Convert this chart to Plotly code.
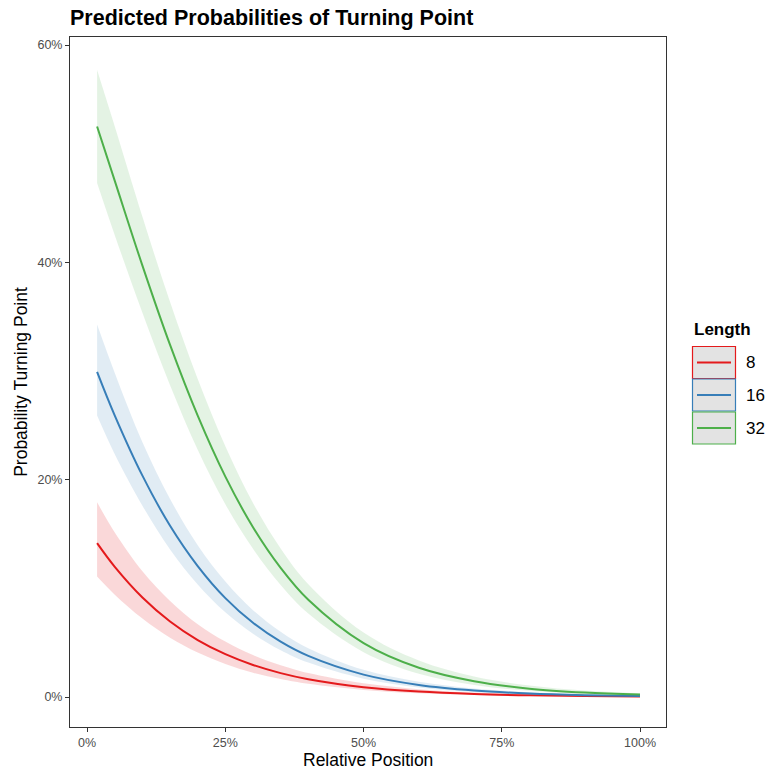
import plotly.graph_objects as go

# Relative position (x) at which values were read
position = [0.018, 0.05, 0.10, 0.15, 0.20, 0.25, 0.30, 0.35, 0.40, 0.50, 0.60, 0.70, 0.80, 0.90, 1.00]

lengths = ["8", "16", "32"]

# Predicted probability and confidence band per Length
prob_8 = [0.1416, 0.1198, 0.0916, 0.0695, 0.0524, 0.0394, 0.0295, 0.0220, 0.0164, 0.00907, 0.00500, 0.00275, 0.00151, 0.00083, 0.00046]
low_8 = [0.1109, 0.0942, 0.0722, 0.0545, 0.0409, 0.0304, 0.0224, 0.0166, 0.0122, 0.00654, 0.00345, 0.00181, 0.00094, 0.00049, 0.00026]
high_8 = [0.1792, 0.1514, 0.1157, 0.0884, 0.0670, 0.0510, 0.0386, 0.0292, 0.0220, 0.01257, 0.00722, 0.00418, 0.00241, 0.00139, 0.00081]

prob_16 = [0.2992, 0.2590, 0.2037, 0.1576, 0.1205, 0.0910, 0.0683, 0.0509, 0.0378, 0.0206, 0.0111, 0.00598, 0.00321, 0.00172, 0.00092]
low_16 = [0.2590, 0.2234, 0.1761, 0.1358, 0.1036, 0.0779, 0.0582, 0.0431, 0.0317, 0.0169, 0.00876, 0.00453, 0.00234, 0.00119, 0.00061]
high_16 = [0.3428, 0.2982, 0.2345, 0.1823, 0.1397, 0.1062, 0.0799, 0.0600, 0.0449, 0.0250, 0.0141, 0.0079, 0.00442, 0.00249, 0.0014]

prob_32 = [0.525, 0.475, 0.397, 0.324, 0.2589, 0.2028, 0.1563, 0.1189, 0.0895, 0.0496, 0.0269, 0.0145, 0.0077, 0.0041, 0.0022]
low_32 = [0.473, 0.425, 0.3536, 0.287, 0.2276, 0.1774, 0.1364, 0.1031, 0.0769, 0.0413, 0.0215, 0.0111, 0.0057, 0.00287, 0.00146]
high_32 = [0.577, 0.525, 0.442, 0.3635, 0.2927, 0.2308, 0.1786, 0.1367, 0.1038, 0.0593, 0.0336, 0.0189, 0.0105, 0.00588, 0.0033]

x_ticks = [0, 0.25, 0.5, 0.75, 1.0]
y_ticks = [0, 0.2, 0.4, 0.6]

colors = ["#E41A1C", "#377EB8", "#4DAF4A"]
bands = ["rgba(228,26,28,0.17)", "rgba(55,126,184,0.15)", "rgba(77,175,74,0.15)"]

series = [(prob_8, low_8, high_8), (prob_16, low_16, high_16), (prob_32, low_32, high_32)]

FONT = "Liberation Sans, Arial, Helvetica, sans-serif"

fig = go.Figure()
for (p, lo, hi), band in zip(series, bands):
    fig.add_trace(go.Scatter(x=position, y=hi, mode="lines", line=dict(width=0, shape="spline"),
                             showlegend=False, hoverinfo="skip"))
    fig.add_trace(go.Scatter(x=position, y=lo, mode="lines", line=dict(width=0, shape="spline"),
                             fill="tonexty", fillcolor=band, showlegend=False, hoverinfo="skip"))
for (p, lo, hi), col, name in zip(series, colors, lengths):
    fig.add_trace(go.Scatter(x=position, y=p, mode="lines", name=name,
                             line=dict(color=col, width=2, shape="spline"), showlegend=False))

# plot area in pixels: left 70, right 666, top 37, bottom 727
L, R, T, B = 70, 666, 37, 727
def px(xp):
    return (xp - L) / (R - L)
def py(yp):
    return (B - yp) / (B - T)

axis_common = dict(showline=True, linecolor="#333333", linewidth=1, mirror=True,
                   ticks="outside", ticklen=4, tickcolor="#333333", tickwidth=1,
                   showgrid=False, zeroline=False, automargin=False,
                   tickfont=dict(family=FONT, size=12.5, color="#4d4d4d"))

fig.update_layout(
    width=767, height=769,
    margin=dict(l=L, r=767 - R, t=T, b=769 - B, autoexpand=False),
    paper_bgcolor="white", plot_bgcolor="white",
    font=dict(family=FONT),
    title=dict(text="<b>Predicted Probabilities of Turning Point</b>", x=0, xref="paper", xanchor="left",
               y=1 - 17 / 769, yanchor="middle", automargin=False,
               font=dict(family=FONT, size=21.5, color="black")),
    xaxis=dict(range=[-0.031, 1.047], tickvals=x_ticks, tickformat=".0%", **axis_common),
    yaxis=dict(range=[-0.0276, 0.6074], tickvals=y_ticks, tickformat=".0%",
               title=dict(text="Probability Turning Point", standoff=5, font=dict(family=FONT, size=17.5, color="black")),
               **axis_common),
    showlegend=False,
)

# x-axis title and legend drawn manually (ggplot-style keys)
shapes = []
annotations = [
    dict(x=px(368), y=py(760.5), xref="paper", yref="paper", text="Relative Position",
         showarrow=False, xanchor="center", yanchor="middle",
         font=dict(family=FONT, size=17.5, color="black")),
    dict(x=px(692), y=py(329), xref="paper", yref="paper", text="<b>Length</b>",
         showarrow=False, xanchor="left", yanchor="middle",
         font=dict(family=FONT, size=17, color="black")),
]
key_tops = [346.5, 379, 412]
key_h = 32
for name, col, top in zip(lengths, colors, key_tops):
    shapes.append(dict(type="rect", xref="paper", yref="paper",
                       x0=px(692.5), x1=px(735.5), y0=py(top + key_h), y1=py(top),
                       fillcolor="#e3e3e3", line=dict(color=col, width=1.2)))
    shapes.append(dict(type="line", xref="paper", yref="paper",
                       x0=px(697), x1=px(731), y0=py(top + key_h / 2), y1=py(top + key_h / 2),
                       line=dict(color=col, width=2)))
    annotations.append(dict(x=px(744), y=py(top + key_h / 2), xref="paper", yref="paper", text=name,
                            showarrow=False, xanchor="left", yanchor="middle",
                            font=dict(family=FONT, size=17, color="black")))
fig.update_layout(shapes=shapes, annotations=annotations)

fig.write_html("out.html", config={"displayModeBar": False},
               post_script="document.body.style.margin='0';document.body.style.padding='0';")
